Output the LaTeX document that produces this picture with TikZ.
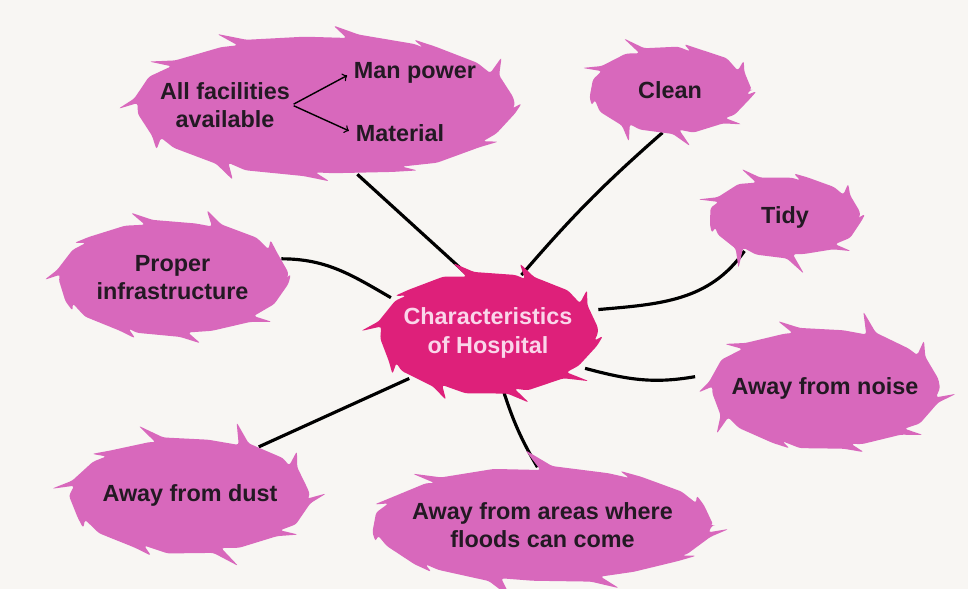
\documentclass[tikz,border=0pt]{standalone}
\usepackage{fontspec}
\setmainfont{Liberation Sans}
\usepackage{tikz}
\usetikzlibrary{shapes.geometric, arrows, positioning, calc}

\definecolor{blobpink}{RGB}{216,104,188}
\definecolor{hubpink}{RGB}{222,32,122}
\definecolor{hubtext}{RGB}{250,214,234}
\definecolor{inkdark}{RGB}{35,25,35}
\definecolor{paper}{RGB}{248,246,243}

\pgfdeclarelayer{bg}
\pgfdeclarelayer{links}
\pgfdeclarelayer{blobs}
\pgfsetlayers{bg,links,blobs,main}

% spiky cloud behind a node: node, rx, ry, seed, spikes, colour
\newcommand{\drawblob}[6]{%
  \begin{scope}[shift={(#1.center)}]
    \pgfmathsetseed{#4}
    \pgfmathsetmacro{\spk}{360/#5}
    \fill[#6, rounded corners=1.5pt] (0:#2 and #3)
      \foreach \i [evaluate=\i as \a using (\i-1)*\spk+10*rnd,
                   evaluate=\i as \d using 0.06+0.34*rnd,
                   evaluate=\i as \b using 0.08*rnd-0.04] in {1,...,#5}{
        -- ({(#2+\b)*cos(\a)},{(#3+\b)*sin(\a)})
        -- ({(#2+0.03)*cos(\a+0.6*\spk)},{(#3+0.03)*sin(\a+0.6*\spk)})
        -- ({(#2+\d)*cos(\a+0.86*\spk)},{(#3+\d)*sin(\a+0.86*\spk)})
        -- ({(#2-0.05)*cos(\a+0.72*\spk)},{(#3-0.05)*sin(\a+0.72*\spk)})
      } -- cycle;
  \end{scope}}

\begin{document}
\begin{tikzpicture}[
    spot/.style={ellipse, inner sep=0pt, align=center, text=inkdark,
                 font=\bfseries\fontsize{13.3}{16}\selectfont},
    word/.style={align=center, text=inkdark, inner sep=1pt,
                 font=\bfseries\fontsize{13.3}{16}\selectfont},
    link/.style={line width=1.8pt, black},
    pointer/.style={->, >=to, line width=0.8pt, black, shorten >=3pt, shorten <=1pt}
]
    \useasboundingbox (0,0) rectangle (19.36,-11.78);
    \begin{pgfonlayer}{bg}
        \fill[paper] (0,0) rectangle (19.36,-11.78);
    \end{pgfonlayer}

    % hub
    \node[spot, text=hubtext, minimum width=4.4cm, minimum height=2.4cm] (cen) at (9.76,-6.66) {Characteristics\\of Hospital};

    % top left cloud with its two branches
    \node[spot, minimum width=7.6cm, minimum height=2.8cm] (facil) at (6.5,-2.1) {};
    \node[word] (allfac) at (4.5,-2.1) {All facilities\\available};
    \node[word] (manpow) at (8.3,-1.46) {Man power};
    \node[word] (mater) at (8.0,-2.66) {Material};
    \draw[pointer] (allfac.east) -- (manpow.west);
    \draw[pointer] (allfac.east) -- (mater.west);

    % the other clouds
    \node[spot, minimum width=3.2cm, minimum height=1.7cm] (clean) at (13.4,-1.8) {Clean};
    \node[spot, minimum width=3.0cm, minimum height=1.6cm] (tidy) at (15.7,-4.34) {Tidy};
    \node[spot, minimum width=4.6cm, minimum height=2.3cm] (infra) at (3.45,-5.56) {Proper\\infrastructure};
    \node[spot, minimum width=4.6cm, minimum height=2.4cm] (noise) at (16.5,-7.76) {Away from noise};
    \node[spot, minimum width=4.8cm, minimum height=2.3cm] (dust) at (3.8,-9.9) {Away from dust};
    \node[spot, minimum width=6.8cm, minimum height=2.3cm] (flood) at (10.85,-10.5) {Away from areas where\\floods can come};

    \begin{pgfonlayer}{blobs}
        \drawblob{facil}{3.8}{1.4}{11}{12}{blobpink}
        \drawblob{clean}{1.6}{0.85}{23}{9}{blobpink}
        \drawblob{tidy}{1.5}{0.8}{37}{9}{blobpink}
        \drawblob{infra}{2.3}{1.15}{41}{10}{blobpink}
        \drawblob{noise}{2.3}{1.2}{53}{10}{blobpink}
        \drawblob{dust}{2.4}{1.15}{67}{10}{blobpink}
        \drawblob{flood}{3.4}{1.15}{79}{11}{blobpink}
        \drawblob{cen}{2.2}{1.2}{97}{10}{hubpink}
    \end{pgfonlayer}

    % connectors to the hub
    \begin{pgfonlayer}{links}
        \draw[link] (facil.295) -- (cen.110);
        \draw[link] (clean.260) to[bend right=4] (cen.60);
        \draw[link] (tidy.220) to[out=235, in=5] (cen.12);
        \draw[link] (infra.10) to[out=0, in=150] (cen.160);
        \draw[link] (noise.175) to[out=190, in=-15] (cen.-20);
        \draw[link] (dust.35) -- (cen.210);
        \draw[link] (flood.95) to[bend left=6] (cen.-75);
    \end{pgfonlayer}
\end{tikzpicture}
\end{document}
